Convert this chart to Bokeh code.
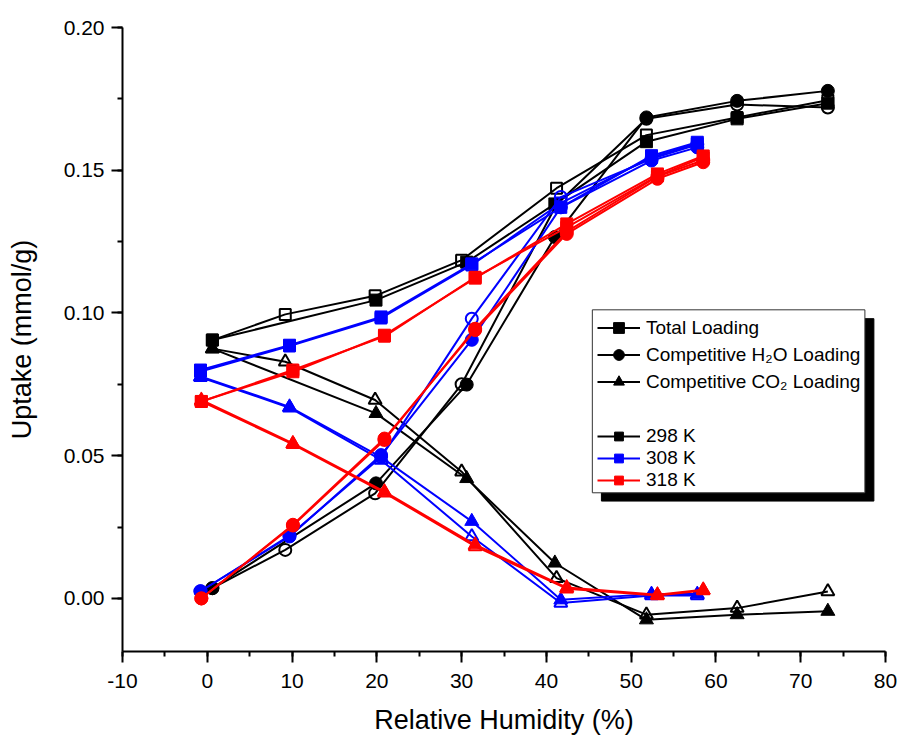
from bokeh.plotting import figure
from bokeh.models import (Range1d, SingleIntervalTicker, PrintfTickFormatter,
                          Legend, LegendItem, BoxAnnotation)
from bokeh.embed import file_html
from bokeh.resources import INLINE

# ---------------- data ----------------
# 298 K  (black) -- filled symbols run
rh_298_a = [0.6, 19.9, 30.6, 41.0, 51.8, 62.5, 73.2]
total_298_a = [0.0905, 0.1045, 0.1178, 0.1382, 0.1600, 0.1680, 0.1735]
h2o_298_a = [0.0036, 0.0403, 0.0749, 0.1266, 0.1685, 0.1743, 0.1778]
co2_298_a = [0.0875, 0.0648, 0.0420, 0.0124, -0.0075, -0.0057, -0.0045]
# 298 K  (black) -- open symbols run
rh_298_b = [0.6, 9.2, 19.8, 30.0, 41.2, 51.8, 62.5, 73.2]
total_298_b = [0.0905, 0.0995, 0.1060, 0.1185, 0.1437, 0.1623, 0.1685, 0.1745]
h2o_298_b = [0.0036, 0.0170, 0.0368, 0.0750, 0.1380, 0.1680, 0.1730, 0.1720]
co2_298_b = [0.0875, 0.0829, 0.0695, 0.0444, 0.0071, -0.0057, -0.0034, 0.0024]

# 308 K  (blue)
rh_308 = [-0.8, 9.7, 20.5, 31.2, 41.7, 52.4, 57.8]
total_308_a = [0.0800, 0.0887, 0.0986, 0.1172, 0.1370, 0.1551, 0.1598]
total_308_b = [0.0795, 0.0884, 0.0982, 0.1168, 0.1385, 0.1545, 0.1594]
h2o_308_a = [0.0025, 0.0217, 0.0502, 0.0906, 0.1370, 0.1534, 0.1580]
h2o_308_b = [0.0025, 0.0220, 0.0495, 0.0980, 0.1406, 0.1540, 0.1590]
co2_308_a = [0.0778, 0.0671, 0.0495, 0.0270, -0.0005, 0.0015, 0.0015]
co2_308_b = [0.0775, 0.0668, 0.0485, 0.0217, -0.0016, 0.0010, 0.0010]

# 318 K  (red)
rh_318 = [-0.7, 10.1, 20.9, 31.6, 42.4, 53.1, 58.5]
total_318_a = [0.0690, 0.0794, 0.0922, 0.1122, 0.1312, 0.1487, 0.1550]
total_318_b = [0.0690, 0.0800, 0.0918, 0.1125, 0.1300, 0.1480, 0.1545]
h2o_318_a = [0.0000, 0.0258, 0.0560, 0.0940, 0.1277, 0.1470, 0.1528]
h2o_318_b = [0.0000, 0.0255, 0.0555, 0.0945, 0.1285, 0.1478, 0.1535]
co2_318_a = [0.0695, 0.0543, 0.0374, 0.0188, 0.0038, 0.0013, 0.0030]
co2_318_b = [0.0690, 0.0540, 0.0370, 0.0182, 0.0034, 0.0010, 0.0028]

x_ticks_interval = 10
y_ticks_interval = 0.05

FONT = "Liberation Sans"

p = figure(width=900, height=737,
           x_range=Range1d(-10, 80), y_range=Range1d(-0.0186, 0.20),
           output_backend="svg", toolbar_location=None,
           min_border_left=122, min_border_right=15,
           min_border_top=27, min_border_bottom=82)
p.grid.visible = False
p.outline_line_color = None
p.background_fill_color = "white"
p.border_fill_color = "white"

SIZES = {"square": 12, "circle": 13, "triangle": 14}


def series(x, y, color, marker, filled):
    lr = p.line(x, y, line_color=color, line_width=2)
    if filled:
        sr = p.scatter(x, y, marker=marker, size=SIZES[marker],
                       fill_color=color, line_color=color, line_width=1)
    else:
        sr = p.scatter(x, y, marker=marker, size=SIZES[marker] - 1,
                       fill_color=None, line_color=color, line_width=2)
    return lr, sr


# black (298 K)
k_sq = series(rh_298_a, total_298_a, "black", "square", True)
series(rh_298_b, total_298_b, "black", "square", False)
k_ci = series(rh_298_a, h2o_298_a, "black", "circle", True)
series(rh_298_b, h2o_298_b, "black", "circle", False)
k_tr = series(rh_298_a, co2_298_a, "black", "triangle", True)
series(rh_298_b, co2_298_b, "black", "triangle", False)

# blue (308 K)
b_sq = series(rh_308, total_308_a, "blue", "square", True)
series(rh_308, total_308_b, "blue", "square", False)
series(rh_308, h2o_308_a, "blue", "circle", True)
series(rh_308, h2o_308_b, "blue", "circle", False)
series(rh_308, co2_308_a, "blue", "triangle", True)
series(rh_308, co2_308_b, "blue", "triangle", False)

# red (318 K)
r_sq = series(rh_318, total_318_a, "red", "square", True)
series(rh_318, total_318_b, "red", "square", False)
series(rh_318, h2o_318_a, "red", "circle", True)
series(rh_318, h2o_318_b, "red", "circle", False)
series(rh_318, co2_318_a, "red", "triangle", True)
series(rh_318, co2_318_b, "red", "triangle", False)

# ---------------- axes ----------------
p.xaxis.ticker = SingleIntervalTicker(interval=x_ticks_interval, num_minor_ticks=2)
p.yaxis.ticker = SingleIntervalTicker(interval=y_ticks_interval, num_minor_ticks=2)
p.xaxis.formatter = PrintfTickFormatter(format="%d")
p.yaxis.formatter = PrintfTickFormatter(format="%.2f")
p.xaxis.axis_label = "Relative Humidity (%)"
p.yaxis.axis_label = "Uptake (mmol/g)"
for ax in (p.xaxis, p.yaxis):
    ax.axis_line_width = 2
    ax.axis_line_color = "black"
    ax.major_tick_line_width = 2
    ax.minor_tick_line_width = 2
    ax.major_tick_line_color = "black"
    ax.minor_tick_line_color = "black"
    ax.major_tick_in = 0
    ax.major_tick_out = 11
    ax.minor_tick_in = 0
    ax.minor_tick_out = 5
    ax.major_label_text_font = FONT
    ax.major_label_text_font_size = "21px"
    ax.major_label_text_color = "black"
    ax.axis_label_text_font = FONT
    ax.axis_label_text_font_size = "27px"
    ax.axis_label_text_font_style = "normal"
    ax.axis_label_text_color = "black"
p.xaxis.major_label_standoff = 11
p.xaxis.axis_label_standoff = 14
p.yaxis.major_label_standoff = 7
p.yaxis.axis_label_standoff = 24

# ---------------- legend ----------------
shadow = BoxAnnotation(left=46.49, right=78.63, top=0.0980, bottom=0.0341,
                       fill_color="black", fill_alpha=1.0, line_color="black",
                       line_alpha=1.0, line_width=1)
box = BoxAnnotation(left=45.42, right=77.57, top=0.1011, bottom=0.0370,
                    fill_color="white", fill_alpha=1.0, line_color="#333333",
                    line_alpha=1.0, line_width=1)
p.add_layout(shadow)
p.add_layout(box)

common = dict(glyph_width=43, padding=0, spacing=0,
              label_standoff=6, border_line_color=None, background_fill_alpha=0,
              label_text_font=FONT, label_text_font_size="19px",
              label_text_color="black", margin=0)

leg1 = Legend(items=[
    LegendItem(label="Total Loading", renderers=list(k_sq)),
    LegendItem(label="Competitive H\u2082O Loading", renderers=list(k_ci)),
    LegendItem(label="Competitive CO\u2082 Loading", renderers=list(k_tr)),
], location=(475, 256), glyph_height=27, label_height=27, **common)
leg2 = Legend(items=[
    LegendItem(label="298 K", renderers=list(k_sq)),
    LegendItem(label="308 K", renderers=list(b_sq)),
    LegendItem(label="318 K", renderers=list(r_sq)),
], location=(475, 160), glyph_height=22, label_height=22, **common)
p.add_layout(leg1)
p.add_layout(leg2)

open("out.html", "w").write(file_html(p, INLINE))
